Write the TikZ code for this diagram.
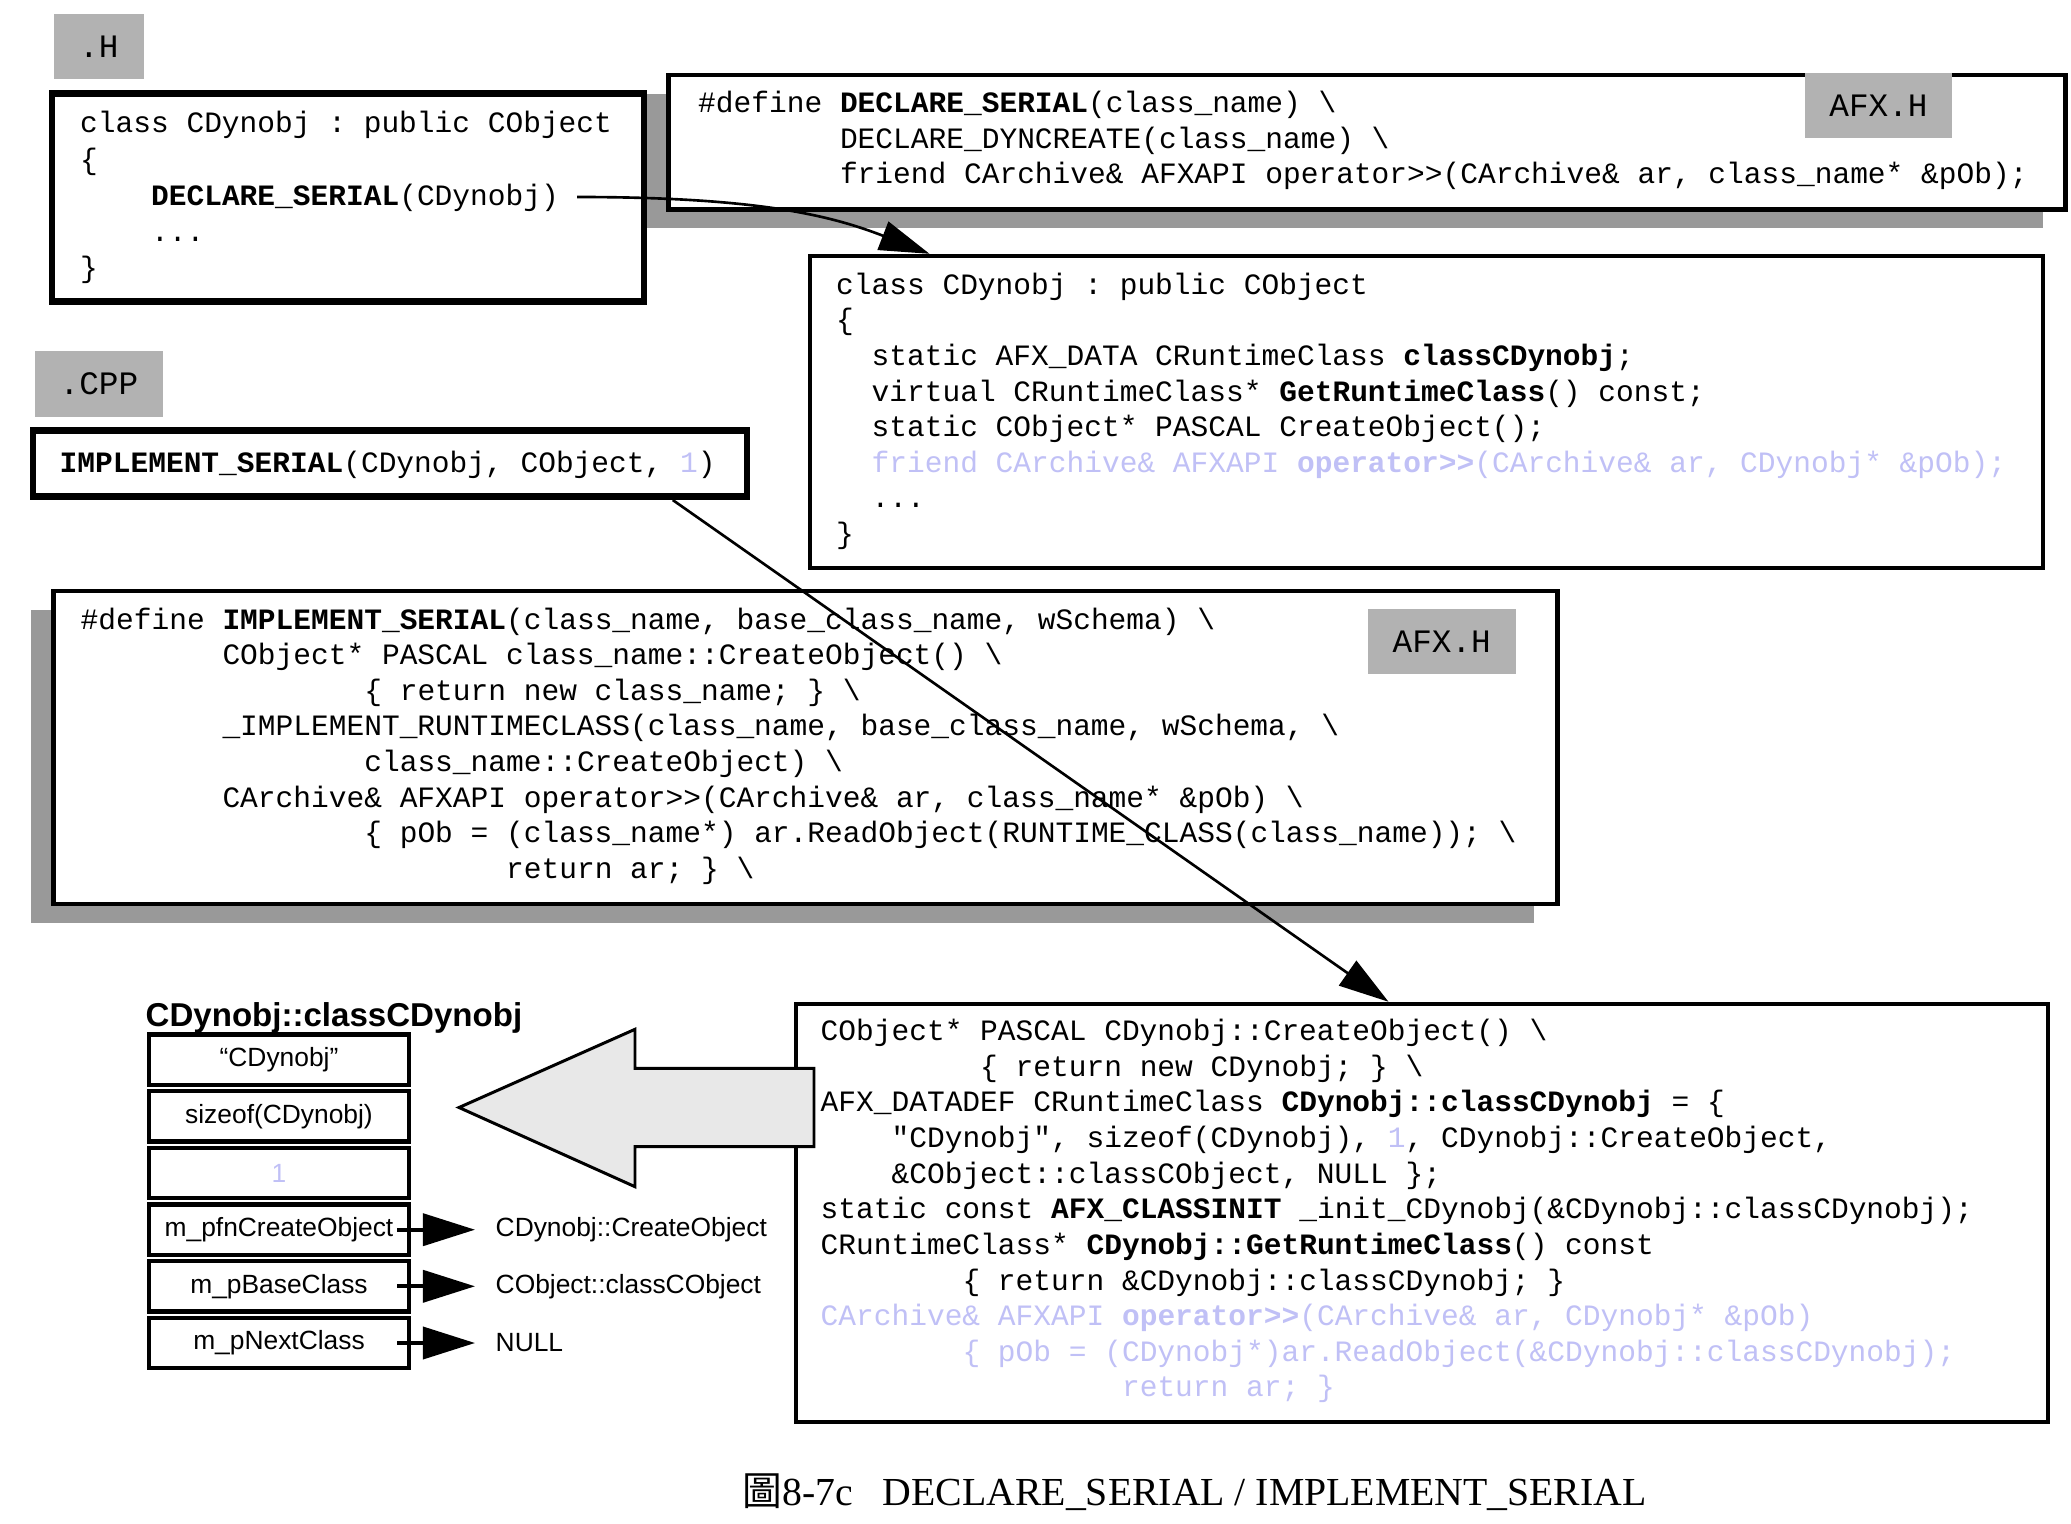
\documentclass[tikz,border=0pt]{standalone}
\usepackage{fontspec}
\setmainfont{Liberation Serif}
\setsansfont{Liberation Sans}
\setmonofont{Liberation Mono}
\newfontfamily\cjkfont{Noto Sans CJK TC}
\usepackage{xcolor}
\usepackage{tikz}
\usetikzlibrary{arrows.meta, calc, shadows}

\definecolor{taggray}{RGB}{178,178,178}
\definecolor{shadowgray}{RGB}{153,153,153}
\definecolor{fadeblue}{RGB}{192,192,246}

\newcommand{\codefont}{\fontsize{8.4pt}{10.13pt}\selectfont\ttfamily}
\newcommand{\tagfont}{\fontsize{9.3pt}{11pt}\selectfont\ttfamily}
\newcommand{\fieldfont}{\fontsize{7.5pt}{9pt}\selectfont\sffamily}
\newcommand{\titlefont}{\fontsize{9.4pt}{11pt}\selectfont\sffamily\bfseries}
\newcommand{\capfont}{\fontsize{11.3pt}{13pt}\selectfont\rmfamily}
\newcommand{\bsl}{\textbackslash}
\newcommand{\indsp}[1]{\hspace*{#1\fontcharwd\font`\M}}

\tikzset{
    code_box/.style={
        rectangle, draw=black, line width=1.3pt, fill=white, inner sep=0pt
    },
    heavy_box/.style={
        rectangle, draw=black, line width=1.9pt, fill=white, inner sep=0pt
    },
    shadow_box/.style={
        code_box, drop shadow={shadow xshift=-0.23cm, shadow yshift=-0.19cm, fill=shadowgray, opacity=1}
    },
    tag_box/.style={
        rectangle, fill=taggray, inner sep=0pt, font=\tagfont
    },
    code_text/.style={
        anchor=north west, inner sep=0pt, align=left, font=\codefont
    },
    field_node/.style={
        rectangle, draw=black, line width=1.25pt, minimum width=2.6cm, minimum height=0.5cm,
        inner sep=0pt, font=\fieldfont
    },
    target_node/.style={
        anchor=west, inner xsep=0.2cm, inner ysep=0pt, font=\fieldfont
    },
    arrow/.style={
        line width=0.75pt, -{Triangle[length=0.5cm, width=0.3cm]}
    },
    arrow_field/.style={
        line width=1.05pt, -{Triangle[length=0.52cm, width=0.32cm]}
    },
    big_arrow/.style={
        draw=black, line width=0.85pt, fill=black!9, line join=miter
    }
}

\begin{document}
\begin{tikzpicture}[x=0.01cm, y=-0.01cm]
    \useasboundingbox (0,0) rectangle (2071,1524);

    % Archivo .H
    \node[tag_box, minimum width=0.895cm, minimum height=0.645cm] (htag) at (98.8,46.3) {.H};
    \node[shadow_box, line width=1.4pt, minimum width=13.97cm, minimum height=1.34cm] (dbox1) at (1367,142) {};
    \node[code_text] (dtxt1) at (697.5,86.8) {\strut\#define {\bfseries DECLARE\_SERIAL}(class\_name) \bsl\\
        \indsp{8}DECLARE\_DYNCREATE(class\_name) \bsl\\
        \indsp{8}friend CArchive\& AFXAPI operator>{}>(CArchive\& ar, class\_name* \&pOb);};
    \node[tag_box, minimum width=1.47cm, minimum height=0.65cm] (afx1) at (1878.5,105.8) {AFX.H};

    \node[heavy_box, minimum width=5.914cm, minimum height=2.084cm] (lbox) at (348,197.5) {};
    \node[code_text, font=\fontsize{8.4pt}{10.3pt}\selectfont\ttfamily] (ltxt) at (79.5,106.8) {\strut class CDynobj : public CObject\\
        \{\\
        \indsp{4}{\bfseries DECLARE\_SERIAL}(CDynobj)\\
        \indsp{4}...\\
        \}};

    % Expansion de la clase
    \node[code_box, line width=1.2pt, minimum width=12.33cm, minimum height=3.12cm] (rbox) at (1426.5,412) {};
    \node[code_text] (rtxt) at (835.5,268.6) {\strut class CDynobj : public CObject\\
        \{\\
        \indsp{2}static AFX\_DATA CRuntimeClass {\bfseries classCDynobj};\\
        \indsp{2}virtual CRuntimeClass* {\bfseries GetRuntimeClass}() const;\\
        \indsp{2}static CObject* PASCAL CreateObject();\\
        \indsp{2}{\color{fadeblue}friend CArchive\& AFXAPI {\bfseries operator>{}>}(CArchive\& ar, CDynobj* \&pOb);}\\
        \indsp{2}...\\
        \}};

    \coordinate (declend) at (577,197);
    \draw[arrow] (declend) .. controls (760,197) and (832,216) .. ($(rbox.north west)+(122,0)$);

    % Archivo .CPP
    \node[tag_box, minimum width=1.285cm, minimum height=0.657cm] (cpptag) at (99,383.8) {.CPP};
    \node[heavy_box, minimum width=7.133cm, minimum height=0.66cm] (ibox) at (390,463.7) {};
    \node[code_text] (itxt) at (59,446.8) {\strut{\bfseries IMPLEMENT\_SERIAL}(CDynobj, CObject, {\color{fadeblue}1})};

    % Macro IMPLEMENT_SERIAL
    \node[shadow_box, line width=1.2pt, minimum width=15.03cm, minimum height=3.127cm] (dbox2) at (805.5,747.6) {};
    \node[code_text] (dtxt2) at (80,603.4) {\strut\#define {\bfseries IMPLEMENT\_SERIAL}(class\_name, base\_class\_name, wSchema) \bsl\\
        \indsp{8}CObject* PASCAL class\_name::CreateObject() \bsl\\
        \indsp{16}\{ return new class\_name; \} \bsl\\
        \indsp{8}\_IMPLEMENT\_RUNTIMECLASS(class\_name, base\_class\_name, wSchema, \bsl\\
        \indsp{16}class\_name::CreateObject) \bsl\\
        \indsp{8}CArchive\& AFXAPI operator>{}>(CArchive\& ar, class\_name* \&pOb) \bsl\\
        \indsp{16}\{ pOb = (class\_name*) ar.ReadObject(RUNTIME\_CLASS(class\_name)); \bsl\\
        \indsp{24}return ar; \} \bsl};
    \node[tag_box, minimum width=1.475cm, minimum height=0.653cm] (afx2) at (1441.8,641.7) {AFX.H};

    % Expansion final
    \node[code_box, line width=1.2pt, minimum width=12.52cm, minimum height=4.18cm] (cbox) at (1422,1213) {};
    \node[code_text] (ctxt) at (820,1015.1) {\strut CObject* PASCAL CDynobj::CreateObject() \bsl\\
        \indsp{9}\{ return new CDynobj; \} \bsl\\
        AFX\_DATADEF CRuntimeClass {\bfseries CDynobj::classCDynobj} = \{\\
        \indsp{4}"CDynobj", sizeof(CDynobj), {\color{fadeblue}1}, CDynobj::CreateObject,\\
        \indsp{4}\&CObject::classCObject, NULL \};\\
        static const {\bfseries AFX\_CLASSINIT} \_init\_CDynobj(\&CDynobj::classCDynobj);\\
        CRuntimeClass* {\bfseries CDynobj::GetRuntimeClass}() const\\
        \indsp{8}\{ return \&CDynobj::classCDynobj; \}\\
        {\color{fadeblue}CArchive\& AFXAPI {\bfseries operator>{}>}(CArchive\& ar, CDynobj* \&pOb)}\\
        {\color{fadeblue}\indsp{8}\{ pOb = (CDynobj*)ar.ReadObject(\&CDynobj::classCDynobj);}\\
        {\color{fadeblue}\indsp{17}return ar; \}}};

    % Flecha hueca
    \draw[big_arrow] (459,1107.5) -- (635,1029.3) -- (635,1068.3) -- (814,1068.3)
        -- (814,1146.7) -- (635,1146.7) -- (635,1186.7) -- cycle;

    % CRuntimeClass
    \node[font=\titlefont, anchor=base west, inner sep=0pt] (ftitle) at (145,1026) {CDynobj::classCDynobj};
    \node[field_node] (f1) at (279,1059.7) {“CDynobj”};
    \node[field_node] (f2) at (279,1116.3) {sizeof(CDynobj)};
    \node[field_node] (f3) at (279,1173.0) {\color{fadeblue}1};
    \node[field_node] (f4) at (279,1229.7) {m\_pfnCreateObject};
    \node[field_node] (f5) at (279,1286.3) {m\_pBaseClass};
    \node[field_node] (f6) at (279,1343.0) {m\_pNextClass};

    \node[target_node] (t4) at (475,1229.7) {CDynobj::CreateObject};
    \node[target_node] (t5) at (475,1286.3) {CObject::classCObject};
    \node[target_node] (t6) at (475,1343.0) {NULL};
    \draw[arrow_field] ([xshift=-0.14cm]f4.east) -- (t4.west);
    \draw[arrow_field] ([xshift=-0.14cm]f5.east) -- (t5.west);
    \draw[arrow_field] ([xshift=-0.14cm]f6.east) -- (t6.west);

    % IMPLEMENT_SERIAL -> expansion
    \draw[arrow] ($(ibox.south west)+(643,0)$) -- ($(cbox.north west)+(595,0)$);

    % Titulo
    \node[font=\capfont, anchor=base west, inner sep=0pt] (caption) at (742,1505)
        {{\cjkfont 圖}8-7c\hspace{0.75em}DECLARE\_SERIAL / IMPLEMENT\_SERIAL};
\end{tikzpicture}
\end{document}
